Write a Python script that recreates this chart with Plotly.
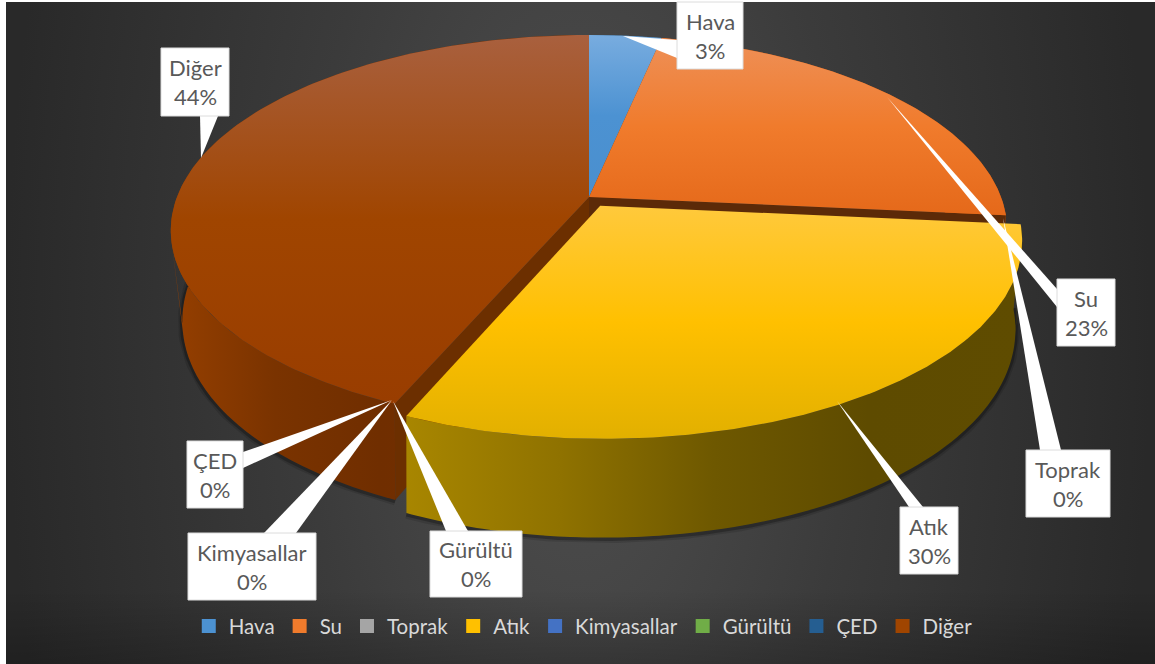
import numpy as np
import plotly.graph_objects as go

# ---- data ----
categories = ["Hava", "Su", "Toprak", "Atık", "Kimyasallar", "Gürültü", "ÇED", "Diğer"]
values = [3.3, 23.2, 0, 30.0, 0, 0, 0, 43.5]
explode = [0, 0, 0, 0.053, 0, 0, 0, 0]

top_colors = [
    ["#78acdf", "#4c92d2", "#4a8fce"],
    ["#ee9058", "#f07b2c", "#e5691a"],
    ["#b8b8b8", "#a5a5a5", "#999999"],
    ["#ffc93c", "#ffc000", "#e2b000"],
    ["#6c8fd8", "#4472c4", "#3d68b4"],
    ["#8fc070", "#70ad47", "#64a03c"],
    ["#4f7fae", "#255e91", "#20548a"],
    ["#a9603e", "#a04500", "#993d00"],
]
wall_colors = {
    "Atık": ["#a88600", "#8f7200", "#6e5800", "#5e4b00", "#5f4c00"],
    "Diğer": ["#953f00", "#7a3300", "#702e00", "#752f00", "#7a3200"],
    "Su": ["#c2560f", "#c2560f"],
    "Hava": ["#3a70a0", "#3a70a0"],
}
face_colors = {"Su": "#5c2a08", "Diğer": "#6c2f00", "Hava": "#2b5c88"}

callouts = {
    # box x0, y0, x1, y1, tail base (2 points), tail tip
    "Hava": ((677, 2, 743, 69), ((677, 40), (677, 58)), (623, 36)),
    "Su": ((1057, 279, 1115, 346), ((1057, 289), (1057, 307)), (887, 97)),
    "Toprak": ((1026, 450, 1110, 517), ((1040, 450), (1061, 450)), (1003, 218)),
    "Atık": ((900, 507, 958, 574), ((909, 507), (923, 507)), (837, 401)),
    "Kimyasallar": ((188, 533, 316, 600), ((264, 533), (296, 533)), (392, 400)),
    "Gürültü": ((430, 531, 522, 597), ((446, 531), (468, 531)), (393, 401)),
    "ÇED": ((187, 441, 243, 508), ((243, 452), (243, 468)), (392, 400)),
    "Diğer": ((161, 48, 229, 116), ((200, 116), (218, 116)), (201, 158)),
}

# ---- projection of the pie disc ----
W, H = 1155, 664
CX, CY = 589, 197
RX, RY, K = 412, 189.8, 0.1716
DEPTH = 81


def project(u, v):
    w = 1 + K * v
    return CX + RX * u / w, CY - RY * v / w, w


def lower(x, y, w):
    # the lower rim is further from the eye, so it draws in towards the middle
    c = np.where(np.asarray(x) < CX, 0.20, 0.12)
    s = 1 - c * (np.asarray(w) - 0.83)
    return CX + (np.asarray(x) - CX) * s, np.asarray(y) + DEPTH / np.asarray(w)


total = sum(values)
fractions = np.cumsum([0] + values) / total

fig = go.Figure()


def poly(xs, ys, **kw):
    fig.add_trace(go.Scatter(x=list(xs), y=list(ys), mode="lines", fill="toself",
                             line=dict(width=0), hoverinfo="skip", showlegend=False, **kw))


def ramp(colors):
    n = len(colors) - 1
    return [[i / n, c] for i, c in enumerate(colors)]


# background
poly([6, 1150, 1150, 6, 6], [-868, -868, 1532, 1532, -868],
     fillcolor="#3a3a3a",
     fillgradient=dict(type="radial", colorscale=[[0, "#505050"], [0.48, "#3b3b3b"], [1, "#292929"]]))
poly([1150, W, W, 1150, 1150], [0, 0, H, H, 0], fillcolor="#292929")
poly([6, W, W, 6, 6], [590, 590, H, H, 590], fillcolor="rgba(0,0,0,0)",
     fillgradient=dict(type="vertical", start=590, stop=664,
                       colorscale=[[0, "rgba(0,0,0,0)"], [1, "rgba(0,0,0,0.22)"]]))
poly([6, W, W, 6, 6], [0, 0, 2, 2, 0], fillcolor="white")

order = [i for i in range(len(values)) if not explode[i]] + [i for i in range(len(values)) if explode[i]]
geom = {}
for i in order:
    if values[i] <= 0:
        continue
    t = 2 * np.pi * np.linspace(fractions[i], fractions[i + 1], 160)
    mid = 2 * np.pi * (fractions[i] + fractions[i + 1]) / 2
    ou, ov = explode[i] * np.sin(mid), explode[i] * np.cos(mid)
    x, y, w = project(np.sin(t) + ou, np.cos(t) + ov)
    cx, cy, cw = project(ou, ov)
    bx, by = lower(x, y, w)
    bcx, bcy = lower(cx, cy, cw)
    bcx, bcy = float(bcx), float(bcy)
    name = categories[i]

    # soft shadow under the side wall
    if name in ("Atık", "Diğer"):
        for width, alpha in ((9, 0.12), (5, 0.25)):
            fig.add_trace(go.Scatter(x=bx, y=by + 1, mode="lines", hoverinfo="skip", showlegend=False,
                                     line=dict(color=f"rgba(0,0,0,{alpha})", width=width)))
    # side wall, built from overlapping strips so the silhouette is straight
    wc = wall_colors.get(name, [top_colors[i][1], top_colors[i][1]])
    qx, qy = [], []
    for k in range(0, len(x) - 1):
        e = min(k + 2, len(x) - 1)
        qx += [x[k], x[e], bx[e], bx[k], x[k], None]
        qy += [y[k], y[e], by[e], by[k], y[k], None]
    poly(qx[:-1], qy[:-1], fillcolor=wc[0],
         fillgradient=dict(type="horizontal", colorscale=ramp(wc),
                           start=float(min(x.min(), bx.min())), stop=float(max(x.max(), bx.max()))))
    # cut faces (only those that can be seen through the gap)
    if not explode[i]:
        fc = face_colors.get(name, wc[-1])
        poly([cx, x[0], bx[0], bcx, cx], [cy, y[0], by[0], bcy, cy], fillcolor=fc)
        poly([cx, x[-1], bx[-1], bcx, cx], [cy, y[-1], by[-1], bcy, cy], fillcolor=fc)
    geom[name] = (np.r_[cx, x, cx], np.r_[cy, y, cy], i)

for name, (xs, ys, i) in sorted(geom.items(), key=lambda g: explode[g[1][2]]):
    poly(xs, ys, fillcolor=top_colors[i][1],
         fillgradient=dict(type="vertical", colorscale=ramp(top_colors[i]),
                           start=float(ys.min()), stop=float(ys.max())))

# legend entries
for i, name in enumerate(categories):
    fig.add_trace(go.Scatter(x=[None], y=[None], mode="markers", name=name, hoverinfo="skip",
                             marker=dict(symbol="square", size=14, color=top_colors[i][1])))

# callouts
shapes, notes = [], []
for i, name in enumerate(categories):
    (x0, y0, x1, y1), base, tip = callouts[name]
    shapes.append(dict(type="path", line=dict(width=0), fillcolor="white", xref="x", yref="y",
                       path=f"M{base[0][0]},{base[0][1]} L{tip[0]},{tip[1]} L{base[1][0]},{base[1][1]} Z"))
    shapes.append(dict(type="rect", x0=x0, y0=y0, x1=x1, y1=y1, xref="x", yref="y",
                       fillcolor="white", line=dict(color="#dcdcdc", width=1)))
    pct = f"{int(values[i] / total * 100 + 0.5)}%"
    xc, yc = (x0 + x1) / 2, (y0 + y1) / 2
    for text, dy in ((name, -14.5), (pct, 14.5)):
        notes.append(dict(x=xc, y=yc + dy, xref="x", yref="y", text=text, showarrow=False,
                          font=dict(family="Lato", size=22, color="#595959")))

fig.update_layout(
    width=W, height=H, margin=dict(l=0, r=0, t=0, b=0),
    paper_bgcolor="white", plot_bgcolor="rgba(0,0,0,0)",
    xaxis=dict(range=[0, W], visible=False, fixedrange=True),
    yaxis=dict(range=[H, 0], visible=False, fixedrange=True),
    shapes=shapes, annotations=notes,
    legend=dict(orientation="h", x=0.505, xanchor="center", y=0.057, yanchor="middle",
                font=dict(family="Lato", size=20.5, color="#d9d9d9"), bgcolor="rgba(0,0,0,0)"),
    showlegend=True,
)
fig.write_html("out.html", config=dict(displayModeBar=False),
               post_script="document.body.style.margin='0';")
